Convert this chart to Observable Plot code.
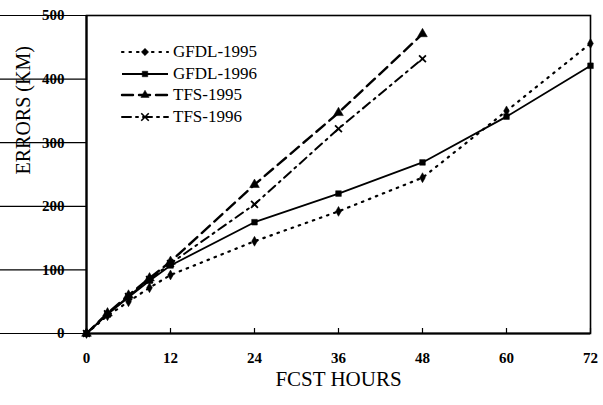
<!DOCTYPE html>
<html>
<head>
<meta charset="utf-8">
<script src="https://cdn.jsdelivr.net/npm/d3@7"></script>
<script src="https://cdn.jsdelivr.net/npm/@observablehq/plot@0.6"></script>
<style>
  body { margin: 0; background: #fff; }
  #wrap { position: relative; width: 603px; height: 405px; font-family: "Liberation Serif", "Times New Roman", serif; }
  #legend { position: absolute; left: 120px; top: 41px; }
  .row { display: flex; align-items: center; height: 21.7px; font-size: 17px; color: #000; }
  .row svg { margin-right: 3px; }
</style>
</head>
<body>
<div id="wrap"><div id="chart"></div><div id="legend"></div></div>
<script>
const hours = [0, 3, 6, 9, 12, 24, 36, 48, 60, 72];
const gfdl1995 = [0, 28, 50, 72, 92, 145, 192, 245, 350, 456];
const gfdl1996 = [0, 30, 57, 83, 107, 175, 220, 269, 341, 421];
const tfs1995 = [0, 32, 60, 87, 113, 234, 347, 471];
const tfs1996 = [0, 31, 58, 85, 110, 203, 322, 432];
const xTicks = [0, 12, 24, 36, 48, 60, 72];
const yTicks = [0, 100, 200, 300, 400, 500];

const seriesNames = ["GFDL-1995", "GFDL-1996", "TFS-1995", "TFS-1996"];
const seriesValues = [gfdl1995, gfdl1996, tfs1995, tfs1996];
const styles = {
  "GFDL-1995": {dash: "1.5,6", width: 2.2, symbol: "diamond", r: 3},
  "GFDL-1996": {dash: null, width: 1.8, symbol: "square", r: 3.2},
  "TFS-1995": {dash: "11,6", width: 2.4, symbol: "triangle", r: 3.6},
  "TFS-1996": {dash: "9,5,2,5", width: 2, symbol: "times", r: 3.2}
};

const series = seriesNames.map((name, i) => ({
  name,
  rows: seriesValues[i].map((v, j) => ({hour: hours[j], err: v, name}))
}));

const marks = [];
marks.push(Plot.frame({stroke: "#000", strokeWidth: 1.6}));
marks.push(Plot.ruleX([0], {stroke: "#000", strokeWidth: 2.2}));
marks.push(Plot.ruleY([0], {stroke: "#000", strokeWidth: 2.2}));
marks.push(Plot.tickX(xTicks, {x: d => d, insetTop: 313, stroke: "#000", strokeWidth: 1.2}));
marks.push(Plot.tickY(yTicks, {y: d => d, insetRight: 671, stroke: "#000", strokeWidth: 1.2}));
for (const s of series) {
  const st = styles[s.name];
  marks.push(Plot.line(s.rows, {x: "hour", y: "err", stroke: "#000", strokeWidth: st.width,
    strokeDasharray: st.dash, strokeLinecap: st.dash ? "round" : "butt"}));
  marks.push(Plot.dot(s.rows, {x: "hour", y: "err", symbol: st.symbol, r: st.r,
    fill: st.symbol === "times" ? "none" : "#000", stroke: "#000", strokeWidth: st.symbol === "times" ? 1.8 : 0.5}));
}
marks.push(Plot.axisX(xTicks, {tickSize: 0, tickPadding: 19, fontSize: 15, fontWeight: "bold", label: null}));
marks.push(Plot.axisY(yTicks, {tickSize: 0, tickPadding: 22, fontSize: 15, fontWeight: "bold", label: null}));
marks.push(Plot.text(["ERRORS (KM)"], {frameAnchor: "left", rotate: -90, dx: -63, fontSize: 20, text: d => d}));
marks.push(Plot.text(["FCST HOURS"], {frameAnchor: "bottom", dy: 52, fontSize: 21, text: d => d}));

const chart = Plot.plot({
  width: 603,
  height: 405,
  marginLeft: 86,
  marginRight: 13,
  marginTop: 15,
  marginBottom: 72,
  style: {fontFamily: "Liberation Serif, Times New Roman, serif", background: "#fff", color: "#000", overflow: "visible"},
  x: {domain: [0, 72]},
  y: {domain: [0, 500]},
  marks
});
document.getElementById("chart").appendChild(chart);

// Legend
const legend = document.getElementById("legend");
for (const name of seriesNames) {
  const st = styles[name];
  const row = document.createElement("div");
  row.className = "row";
  const svg = d3.create("svg").attr("width", 50).attr("height", 14);
  svg.append("line").attr("x1", 2).attr("x2", 48).attr("y1", 7).attr("y2", 7)
    .attr("stroke", "#000").attr("stroke-width", st.width)
    .attr("stroke-dasharray", st.dash).attr("stroke-linecap", st.dash ? "round" : "butt");
  const sym = {diamond: d3.symbolDiamond2, square: d3.symbolSquare2, triangle: d3.symbolTriangle2, times: d3.symbolTimes}[st.symbol];
  svg.append("path").attr("transform", "translate(25,7)")
    .attr("d", d3.symbol(sym, Math.PI * st.r * st.r * 1.2)())
    .attr("fill", st.symbol === "times" ? "none" : "#000")
    .attr("stroke", "#000").attr("stroke-width", st.symbol === "times" ? 1.6 : 0.5);
  row.appendChild(svg.node());
  const span = document.createElement("span");
  span.textContent = name;
  row.appendChild(span);
  legend.appendChild(row);
}
</script>
</body>
</html>
